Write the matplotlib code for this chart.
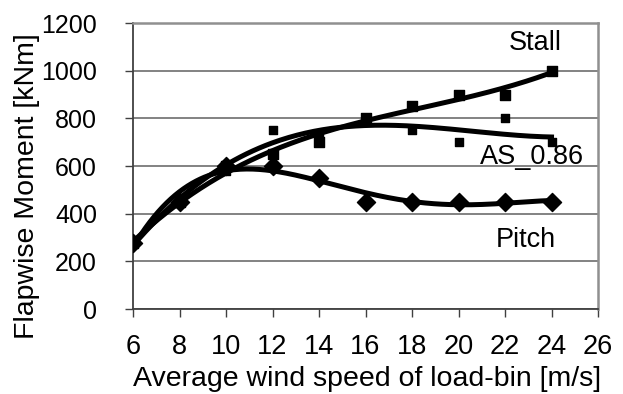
import numpy as np
import matplotlib.pyplot as plt

plt.rcParams['font.family'] = ['Liberation Sans', 'DejaVu Sans']

wind = [6, 8, 10, 12, 14, 16, 18, 20, 22, 24]
stall = [275, 450, 600, 650, 700, 800, 850, 900, 900, 1000]
as_086 = [275, 450, 580, 750, 720, 800, 750, 700, 800, 700]
pitch = [275, 450, 600, 600, 550, 450, 450, 450, 450, 450]

fig = plt.figure(figsize=(6.23, 3.94), dpi=100)
ax = fig.add_axes([0.2135, 0.2157, 0.7464, 0.7259])

xs = np.linspace(6, 24, 200)

# polynomial trendlines through each series
def trend(y, deg=3):
    return np.polyval(np.polyfit(wind, y, deg), xs)

ax.plot(xs, trend(stall, 3), color='black', lw=3.6, zorder=3)
ax.plot(xs, trend(as_086, 4), color='black', lw=3.6, zorder=3)
ax.plot(xs, trend(pitch, 4), color='black', lw=3.6, zorder=3)

ax.scatter(wind, stall, marker='s', s=55, color='black', zorder=4)
ax.scatter(wind, as_086, marker='s', s=30, color='black', zorder=4)
ax.scatter(wind, pitch, marker='D', s=85, color='black', zorder=4)

ax.text(23.3, 1116, 'Stall', fontsize=19.5, ha='center', va='center')
ax.text(23.17, 638, 'AS_0.86', fontsize=19.5, ha='center', va='center')
ax.text(22.9, 290, 'Pitch', fontsize=19.5, ha='center', va='center')

ax.set_xlim(6, 26)
ax.set_ylim(0, 1200)
ax.set_xticks(range(6, 27, 2))
ax.set_yticks(range(0, 1201, 200))
ax.yaxis.grid(True, color='#606060', lw=1.1)
ax.set_axisbelow(True)

for side in ['top', 'right']:
    ax.spines[side].set_color('#909090')
    ax.spines[side].set_linewidth(1.8)
for side in ['left', 'bottom']:
    ax.spines[side].set_color('#404040')
    ax.spines[side].set_linewidth(1.3)

ax.tick_params(axis='both', direction='out', length=6, width=1, color='#404040')
ax.tick_params(axis='x', labelsize=19.5, pad=12)
ax.tick_params(axis='y', labelsize=18, pad=20)

fig.text(367.5 / 623, 1 - 386 / 394, 'Average wind speed of load-bin [m/s]',
         fontsize=20.5, ha='center', va='baseline')
fig.text(27 / 623, 1 - 186 / 394, 'Flapwise Moment [kNm]',
         fontsize=20.5, ha='center', va='center', rotation=90)

fig.savefig('out.png', dpi=100)
